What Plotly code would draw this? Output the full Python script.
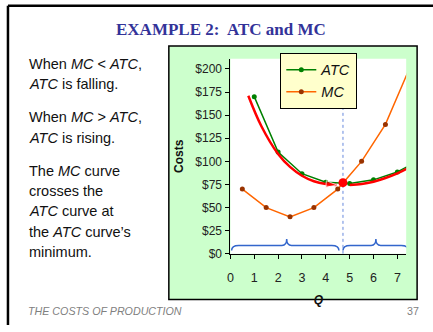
import plotly.graph_objects as go

# ---------------- data ----------------
atc_q = [1, 2, 3, 4, 5, 6, 7, 8]
atc_cost = [170, 110, 86.67, 77.5, 76, 80, 88.57, 102.5]
mc_q = [0.5, 1.5, 2.5, 3.5, 4.5, 5.5, 6.5, 7.5]
mc_cost = [70, 50, 40, 50, 70, 100, 140, 200]

# hand-drawn red guide curves (falling / rising parts of ATC)
fall_q = [0.75, 1.3, 2.0, 2.5, 3.0, 3.5, 4.0, 4.45]
fall_cost = [171, 138, 108, 94, 84.5, 78.5, 75.5, 74.5]
rise_q = [5.0, 5.5, 6.0, 6.5, 7.0, 7.5, 7.95]
rise_cost = [74.5, 75.5, 78, 82, 87, 93.5, 101]

min_q = 4.72
min_cost = 77
dash_top = 161

brace_spans = [(0.05, 2.36, 4.55), (4.72, 6.1, 7.46)]

y_tickvals = [0, 25, 50, 75, 100, 125, 150, 175, 200]
y_ticktext = ["$0", "$25", "$50", "$75", "$100", "$125", "$150", "$175", "$200"]
x_tickvals = [0, 1, 2, 3, 4, 5, 6, 7]

left_lines = [
    "When <i>MC</i> &lt; <i>ATC</i>,",
    "<i>ATC</i> is falling.",
    "When <i>MC</i> &gt; <i>ATC</i>,",
    "<i>ATC</i> is rising.",
    "The <i>MC</i> curve",
    "crosses the",
    "<i>ATC</i> curve at",
    "the <i>ATC</i> curve\u2019s",
    "minimum.",
]
left_line_y = [64, 84.5, 119, 139.5, 174, 194.5, 215, 235.5, 256]

W, H = 433, 332
def PX(x):
    return x / W
def PY(y):
    return 1 - y / H

SANS = "Liberation Sans, Arial, sans-serif"

fig = go.Figure()

fig.add_trace(go.Scatter(
    x=atc_q, y=atc_cost, name="ATC", mode="lines+markers",
    line=dict(color="#008000", width=1.5),
    marker=dict(color="#008000", size=5), cliponaxis=False))
fig.add_trace(go.Scatter(
    x=mc_q, y=mc_cost, name="MC", mode="lines+markers",
    line=dict(color="#ff6600", width=1.5),
    marker=dict(color="#993300", size=5), cliponaxis=False))

for qs, cs in [(fall_q, fall_cost), (rise_q, rise_cost)]:
    fig.add_trace(go.Scatter(
        x=qs, y=cs, mode="lines+markers", showlegend=False, hoverinfo="skip",
        line=dict(color="#ff0000", width=2.5, shape="spline"),
        marker=dict(symbol="arrow", angleref="previous", color="#ff0000",
                    size=[0] * (len(qs) - 1) + [11]),
        cliponaxis=False))

fig.add_trace(go.Scatter(
    x=[min_q, min_q], y=[0, dash_top], mode="lines", showlegend=False,
    line=dict(color="#6688dd", width=1, dash="dot"), hoverinfo="skip"))
fig.add_trace(go.Scatter(
    x=[min_q], y=[min_cost], mode="markers", showlegend=False,
    marker=dict(color="#ff0000", size=9), cliponaxis=False))

shapes = [
    # slide border
    dict(type="line", xref="paper", yref="paper", x0=PX(5), x1=PX(433), y0=PY(6), y1=PY(6),
         line=dict(color="black", width=2.5), layer="below"),
    dict(type="line", xref="paper", yref="paper", x0=PX(5), x1=PX(5), y0=PY(6), y1=PY(332),
         line=dict(color="black", width=2.5), layer="below"),
    # green chart box
    dict(type="rect", xref="paper", yref="paper", x0=PX(167), x1=PX(417), y0=PY(306), y1=PY(47),
         fillcolor="#ccffcc", line=dict(color="black", width=1.5), layer="below"),
    # white plot area
    dict(type="rect", xref="paper", yref="paper", x0=PX(229), x1=PX(406), y0=PY(259.3), y1=PY(60),
         fillcolor="white", line=dict(width=0), layer="below"),
]

for x0, xm, x1 in brace_spans:
    yb, yh, yp = 3.5, 9, 16
    dx, dm = 0.3, 0.2
    path = (f"M {x0},{yb} Q {x0},{yh} {x0+dx},{yh} L {xm-dm},{yh} Q {xm},{yh} {xm},{yp} "
            f"Q {xm},{yh} {xm+dm},{yh} L {x1-dx},{yh} Q {x1},{yh} {x1},{yb}")
    shapes.append(dict(type="path", xref="x", yref="y", path=path,
                       line=dict(color="#3366cc", width=1.5), layer="above"))

annotations = [
    dict(text="<b>EXAMPLE 2:\u00a0 ATC and MC</b>", x=PX(220), y=PY(30), xref="paper", yref="paper",
         xanchor="center", yanchor="middle", showarrow=False,
         font=dict(family="Liberation Serif, Times New Roman, serif", size=17, color="#333399")),
    dict(text="<i>THE COSTS OF PRODUCTION</i>", x=PX(23), y=PY(318), xref="paper", yref="paper",
         xanchor="left", yanchor="middle", showarrow=False,
         font=dict(family=SANS, size=10.7, color="#808080")),
    dict(text="37", x=PX(421), y=PY(318), xref="paper", yref="paper",
         xanchor="right", yanchor="middle", showarrow=False,
         font=dict(family=SANS, size=10.7, color="#808080")),
]
for txt, yy in zip(left_lines, left_line_y):
    annotations.append(dict(text=txt, x=PX(24), y=PY(yy + 1), xref="paper", yref="paper",
                            xanchor="left", yanchor="middle", showarrow=False,
                            font=dict(family=SANS, size=14.5, color="#111111")))

fig.update_layout(
    width=W, height=H, margin=dict(l=0, r=0, t=0, b=0),
    paper_bgcolor="white", plot_bgcolor="rgba(0,0,0,0)",
    font=dict(family=SANS, color="#222222"),
    shapes=shapes, annotations=annotations,
    showlegend=True,
    legend=dict(x=PX(318), y=PY(54), xanchor="center", yanchor="top",
                bgcolor="#ffffcc", bordercolor="black", borderwidth=1,
                font=dict(family=SANS, size=14.5, style="italic", color="#111111"),
                itemwidth=30, tracegroupgap=0),
    xaxis=dict(domain=[PX(229), PX(406)], range=[0, 7.37], tickvals=x_tickvals,
               showgrid=False, zeroline=False, showline=True, linecolor="black", linewidth=1,
               ticks="outside", ticklen=4, tickcolor="black", ticklabelstandoff=8,
               tickfont=dict(family=SANS, size=12.5, color="#222222"),
               title=dict(text="<b><i>Q</i></b>", font=dict(family=SANS, size=12, color="#111111"),
                          standoff=11)),
    yaxis=dict(domain=[PY(259.3), PY(60)], range=[0, 211], tickvals=y_tickvals, ticktext=y_ticktext,
               showgrid=False, zeroline=False, showline=True, linecolor="black", linewidth=1,
               ticks="outside", ticklen=4, tickcolor="black", ticklabelstandoff=1,
               tickfont=dict(family=SANS, size=12, color="#222222"),
               title=dict(text="<b>Costs</b>", font=dict(family=SANS, size=12, color="#111111"),
                          standoff=9)),
)

fig.write_html("out.html", config={"displayModeBar": False},
               post_script="document.body.style.margin='0';document.body.style.overflow='hidden';")
